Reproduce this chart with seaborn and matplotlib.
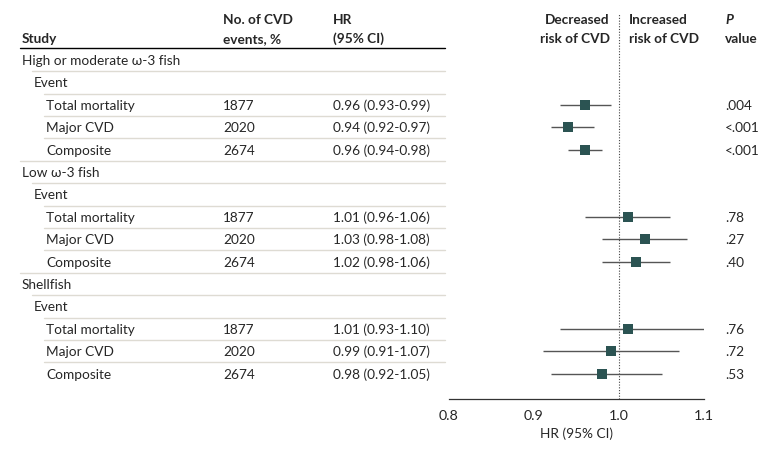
import numpy as np
import pandas as pd
import matplotlib
matplotlib.use("Agg")
import matplotlib.pyplot as plt
import matplotlib.transforms as mtransforms
import seaborn as sns

groups = ["High or moderate ω-3 fish", "Low ω-3 fish", "Shellfish"]
events = ["Total mortality", "Major CVD", "Composite"]
n_events = [1877, 2020, 2674]
hr = [0.96, 0.94, 0.96, 1.01, 1.03, 1.02, 1.01, 0.99, 0.98]
ci_lo = [0.93, 0.92, 0.94, 0.96, 0.98, 0.98, 0.93, 0.91, 0.92]
ci_hi = [0.99, 0.97, 0.98, 1.06, 1.08, 1.06, 1.10, 1.07, 1.05]
p_values = [".004", "<.001", "<.001", ".78", ".27", ".40", ".76", ".72", ".53"]
x_ticks = [0.8, 0.9, 1.0, 1.1]

sns.set_style("white")
plt.rcParams['font.family'] = ['Lato', 'DejaVu Sans']
FS = 9.8

# build the table rows: group, "Event", then the three events
rows = []
k = 0
for g in groups:
    rows.append(dict(label=g, level=0))
    rows.append(dict(label="Event", level=1))
    for j, e in enumerate(events):
        rows.append(dict(label=e, level=2, n=n_events[j], hr=hr[k], lo=ci_lo[k],
                         hi=ci_hi[k], p=p_values[k],
                         hr_text=f"{hr[k]:.2f} ({ci_lo[k]:.2f}-{ci_hi[k]:.2f})"))
        k += 1
df = pd.DataFrame(rows)
df["row"] = np.arange(len(df))
est = df.dropna(subset=["hr"])

W, H = 780, 452
fig = plt.figure(figsize=(W / 100, H / 100), dpi=100)
ax = fig.add_axes([449 / W, 52 / H, (704 - 449) / W, (400 - 15) / H])

row_px = 22.4
y0 = 61
ax.set_ylim((400 - y0) / row_px, (15 - y0) / row_px)
ax.set_xlim(0.8, 1.1)

trans = mtransforms.blended_transform_factory(fig.transFigure, ax.transData)
def fx(px):
    return px / W

indent = {0: 22, 1: 34, 2: 46}

# confidence intervals and point estimates
ax.hlines(est["row"], est["lo"], est["hi"], color="#555555", lw=1.0, zorder=2)
sns.scatterplot(data=est, x="hr", y="row", marker="s", s=44, color="#2b5352",
                edgecolor="#2b5352", linewidth=0, zorder=3, ax=ax, legend=False)
ax.axvline(1.0, color="#444444", lw=0.8, ls=(0, (1, 1.5)), zorder=1)

# table text
for _, r in df.iterrows():
    ax.text(fx(indent[r["level"]]), r["row"], r["label"], transform=trans,
            ha="left", va="center", fontsize=FS)
    if r["level"] == 2:
        ax.text(fx(223), r["row"], str(int(r["n"])), transform=trans,
                ha="left", va="center", fontsize=FS)
        ax.text(fx(333), r["row"], r["hr_text"], transform=trans,
                ha="left", va="center", fontsize=FS)
        ax.text(fx(725), r["row"], r["p"], transform=trans,
                ha="left", va="center", fontsize=FS)
    # separator line above each row (except first)
    if r["row"] > 0:
        ax.plot([fx(indent[r["level"]] - 2), fx(445)], [r["row"] - 0.5] * 2,
                transform=trans, color="#dedbd3", lw=1.0, clip_on=False)

# header
hy1 = (20 - y0) / row_px
hy2 = (39 - y0) / row_px
ax.text(fx(22), hy2, "Study", transform=trans, ha="left", va="center",
        fontsize=FS, fontweight="bold")
ax.text(fx(223), hy1, "No. of CVD", transform=trans, ha="left", va="center",
        fontsize=FS, fontweight="bold")
ax.text(fx(223), hy2, "events, %", transform=trans, ha="left", va="center",
        fontsize=FS, fontweight="bold")
ax.text(fx(333), hy1, "HR", transform=trans, ha="left", va="center",
        fontsize=FS, fontweight="bold")
ax.text(fx(333), hy2, "(95% CI)", transform=trans, ha="left", va="center",
        fontsize=FS, fontweight="bold")
ax.text(fx(610), hy1, "Decreased", transform=trans, ha="right", va="center",
        fontsize=FS, fontweight="bold")
ax.text(fx(610), hy2, "risk of CVD", transform=trans, ha="right", va="center",
        fontsize=FS, fontweight="bold")
ax.text(fx(629), hy1, "Increased", transform=trans, ha="left", va="center",
        fontsize=FS, fontweight="bold")
ax.text(fx(629), hy2, "risk of CVD", transform=trans, ha="left", va="center",
        fontsize=FS, fontweight="bold")
ax.text(fx(725), hy1, "P", transform=trans, ha="left", va="center",
        fontsize=FS, fontweight="bold", style="italic")
ax.text(fx(725), hy2, "value", transform=trans, ha="left", va="center",
        fontsize=FS, fontweight="bold")
ax.plot([fx(20), fx(445)], [(49 - y0) / row_px] * 2, transform=trans,
        color="black", lw=1.0, clip_on=False)

# axis styling
for s in ["top", "right", "left"]:
    ax.spines[s].set_visible(False)
ax.spines["bottom"].set_color("#333333")
ax.spines["bottom"].set_linewidth(0.9)
ax.set_xticks(x_ticks)
ax.set_xticklabels([f"{t:.1f}" for t in x_ticks], fontsize=FS + 0.5)
ax.tick_params(axis="x", direction="out", length=4, width=0.9, color="#333333", pad=3)
ax.set_yticks([])
ax.set_ylabel("")
ax.set_xlabel("HR (95% CI)", fontsize=FS, labelpad=4)
ax.patch.set_alpha(0)

fig.savefig("out.png", dpi=100)
